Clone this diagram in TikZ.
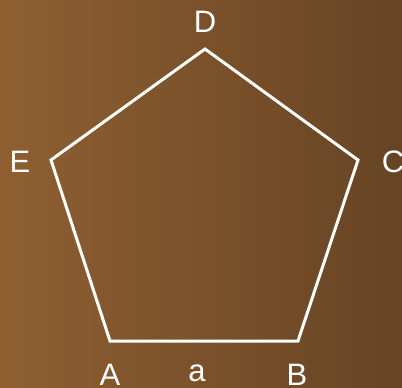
\documentclass[tikz,border=0pt]{standalone}
\usepackage{fontspec}
\setmainfont{Liberation Sans}
\usepackage{tikz}
\usetikzlibrary{positioning}
\definecolor{bgleft}{HTML}{8F5F31}
\definecolor{bgright}{HTML}{664424}

\begin{document}
\begin{tikzpicture}[
    x=1pt, y=-1pt,
    side/.style={draw=white, line width=3pt, miter limit=10},
    vlabel/.style={text=white, font=\fontsize{31}{35}\selectfont, inner sep=0pt}
]
    % background
    \shade[left color=bgleft, right color=bgright] (0,0) rectangle (402,388);
    \useasboundingbox (0,0) rectangle (402,388);

    % corners of the pentagon
    \coordinate (A) at (110,341);
    \coordinate (B) at (298,341);
    \coordinate (C) at (358,160);
    \coordinate (D) at (205,49);
    \coordinate (E) at (51,160);
    \draw[side] (A) -- (B) -- (C) -- (D) -- (E) -- cycle;

    % labels
    \node[vlabel] (labA) at (110,375) {A};
    \node[vlabel] (labB) at (297,375) {B};
    \node[vlabel] (labC) at (393,162) {C};
    \node[vlabel] (labD) at (205,22) {D};
    \node[vlabel] (labE) at (20,162) {E};
    \node[vlabel] (laba) at (197,373) {a};
\end{tikzpicture}
\end{document}
